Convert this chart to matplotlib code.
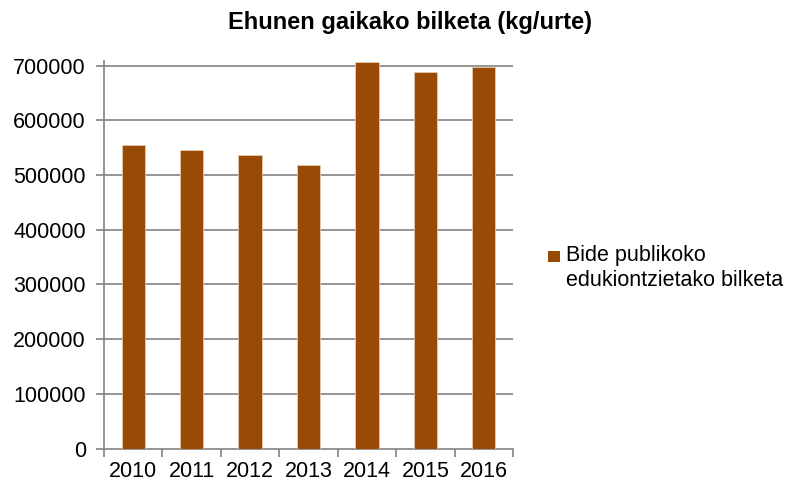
import matplotlib
matplotlib.use("Agg")
import matplotlib.pyplot as plt
from matplotlib.patches import Rectangle

years = ["2010", "2011", "2012", "2013", "2014", "2015", "2016"]
values = [555000, 546000, 537000, 518000, 707000, 689000, 698000]
series_name = "Bide publikoko\nedukiontzietako bilketa"
title = "Ehunen gaikako bilketa (kg/urte)"
yticks = [0, 100000, 200000, 300000, 400000, 500000, 600000, 700000]

plt.rcParams['font.family'] = ['Liberation Sans', 'DejaVu Sans']

fig = plt.figure(figsize=(7.94, 4.86), dpi=100)
ax = fig.add_axes([104/794, 1-448.5/486, (513-104)/794, (448.5-61)/486])

bar_color = "#994A07"
x = list(range(len(years)))
ax.bar(x, values, width=0.4, color=bar_color, edgecolor="#E8C8A8", linewidth=0.6, zorder=3,
       label=series_name)

ax.set_xlim(-0.5, len(years) - 0.5)
ax.set_ylim(0, 708500)
ax.set_yticks(yticks)
ax.set_yticklabels([str(v) for v in yticks])
ax.set_xticks(x)
ax.set_xticklabels(years)
ax.set_xticks([i - 0.5 for i in range(len(years) + 1)], minor=True)

grid_color = "#8C8C8C"
for v in yticks[1:]:
    ax.axhline(v, color=grid_color, linewidth=1.3, zorder=1)

for s in ["top", "right"]:
    ax.spines[s].set_visible(False)
ax.spines["left"].set_color(grid_color)
ax.spines["bottom"].set_color(grid_color)
ax.spines["left"].set_linewidth(1.3)
ax.spines["bottom"].set_linewidth(1.3)

ax.tick_params(axis="y", which="major", direction="out", length=6, width=1.3, color=grid_color,
               labelsize=15.5, pad=7)
ax.tick_params(axis="x", which="major", length=0, labelsize=15.5, pad=9)
ax.tick_params(axis="x", which="minor", direction="out", length=6, width=1.3, color=grid_color)

fig.text(410/794, 1-22/486, title, ha="center", va="center", fontsize=17, fontweight="bold")

# legend: marker aligned with first line of the label
fig.patches.append(Rectangle((548/794, 1-262/486), 12/794, 11/486, transform=fig.transFigure,
                             facecolor=bar_color, edgecolor="none"))
fig.text(566/794, 1-245/486, series_name, ha="left", va="top", fontsize=15.5, linespacing=1.22)

fig.savefig("out.png", dpi=100)
